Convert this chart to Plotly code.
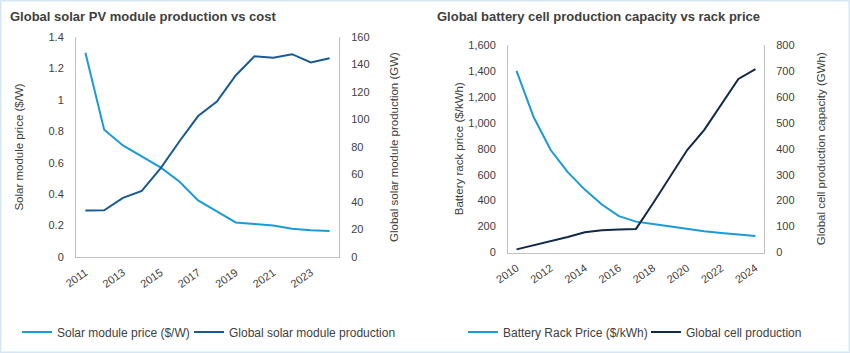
import plotly.graph_objects as go

W, H = 850, 353

# ---- data: solar ----
solar_years = [2011, 2012, 2013, 2014, 2015, 2016, 2017, 2018, 2019, 2020, 2021, 2022, 2023, 2024]
solar_price = [1.30, 0.81, 0.71, 0.64, 0.57, 0.48, 0.36, 0.29, 0.22, 0.21, 0.20, 0.18, 0.17, 0.165]
solar_production = [33.8, 34.0, 43.0, 48.0, 64.5, 84.0, 102.5, 113.0, 132.0, 146.0, 145.0, 147.5, 141.5, 144.5]
solar_xticks = [2011, 2013, 2015, 2017, 2019, 2021, 2023]

# ---- data: battery ----
battery_years = [2010, 2011, 2012, 2013, 2014, 2015, 2016, 2017, 2018, 2019, 2020, 2021, 2022, 2023, 2024]
battery_price = [1400, 1045, 790, 620, 485, 370, 280, 238, 220, 200, 180, 163, 150, 139, 127]
cell_production = [12, 28, 42, 60, 78, 86, 89, 91, 190, 292, 395, 473, 569, 669, 707]
battery_xticks = [2010, 2012, 2014, 2016, 2018, 2020, 2022, 2024]

LIGHT = "#1b9bd6"
DARK1 = "#1a5a92"
DARK2 = "#13294b"
TXT = "#404040"
AX = "#bfbfbf"
FONT = "Liberation Sans, Arial, sans-serif"

def px_x(p):
    return p / W

def px_y(p):
    return 1 - p / H

fig = go.Figure()
fig.add_trace(go.Scatter(x=solar_years, y=solar_price, mode="lines", name="Solar module price ($/W)",
                         line=dict(color=LIGHT, width=2), xaxis="x", yaxis="y", legend="legend",
                         showlegend=True))
fig.add_trace(go.Scatter(x=solar_years, y=solar_production, mode="lines", name="Global solar module production",
                         line=dict(color=DARK1, width=2), xaxis="x", yaxis="y2", legend="legend2",
                         showlegend=True))
fig.add_trace(go.Scatter(x=battery_years, y=battery_price, mode="lines", name="Battery Rack Price ($/kWh)",
                         line=dict(color=LIGHT, width=2), xaxis="x2", yaxis="y3", legend="legend3",
                         showlegend=True))
fig.add_trace(go.Scatter(x=battery_years, y=cell_production, mode="lines", name="Global cell production",
                         line=dict(color=DARK2, width=2), xaxis="x2", yaxis="y4", legend="legend4",
                         showlegend=True))

tickfont = dict(family=FONT, size=11, color=TXT)
titlefont = dict(family=FONT, size=11.5, color=TXT)

common_x = dict(showgrid=False, zeroline=False, showline=True, linecolor=AX, linewidth=1,
                ticks="", tickangle=-35, tickfont=tickfont, ticklabelstandoff=4)
common_y = dict(showgrid=False, zeroline=False, showline=True, linecolor=AX, linewidth=1,
                ticks="", tickfont=tickfont, ticklabelstandoff=9)

L_dom = [px_x(76), px_x(339)]
L_ydom = [px_y(257), px_y(37)]
R_dom = [px_x(508), px_x(764)]
R_ydom = [px_y(252.5), px_y(45)]

def leg(xpx):
    return dict(orientation="h", x=px_x(xpx), y=px_y(332), xanchor="left", yanchor="middle",
                font=dict(family=FONT, size=12, color=TXT), itemwidth=30,
                bgcolor="rgba(0,0,0,0)")

fig.update_layout(
    width=W, height=H,
    showlegend=True,
    margin=dict(l=0, r=0, t=0, b=0, autoexpand=False),
    paper_bgcolor="white", plot_bgcolor="white",
    font=dict(family=FONT, color=TXT),
    xaxis=dict(common_x, domain=L_dom, anchor="y", range=[2010.5, 2024.5], tickvals=solar_xticks),
    yaxis=dict(common_y, domain=L_ydom, anchor="x", range=[0, 1.4], dtick=0.2,
               title=dict(text="Solar module price ($/W)", font=titlefont, standoff=22)),
    yaxis2=dict(common_y, overlaying="y", side="right", anchor="x", range=[0, 160], dtick=20,
                title=dict(text="Global solar module production (GW)", font=titlefont, standoff=21)),
    xaxis2=dict(common_x, domain=R_dom, anchor="y3", range=[2009.5, 2024.5], tickvals=battery_xticks),
    yaxis3=dict(common_y, domain=R_ydom, anchor="x2", range=[0, 1600], dtick=200, tickformat=",",
                title=dict(text="Battery rack price ($/kWh)", font=titlefont, standoff=2)),
    yaxis4=dict(common_y, overlaying="y3", side="right", anchor="x2", range=[0, 800], dtick=100,
                title=dict(text="Global cell production capacity (GWh)", font=titlefont, standoff=23)),
    legend=leg(17),
    legend2=leg(189),
    legend3=leg(463),
    legend4=leg(646),
    annotations=[
        dict(text="<b>Global solar PV module production vs cost</b>", x=px_x(8), y=px_y(16),
             xref="paper", yref="paper", xanchor="left", yanchor="middle", showarrow=False,
             font=dict(family=FONT, size=13, color=TXT)),
        dict(text="<b>Global battery cell production capacity vs rack price</b>", x=px_x(435), y=px_y(16),
             xref="paper", yref="paper", xanchor="left", yanchor="middle", showarrow=False,
             font=dict(family=FONT, size=13, color=TXT)),
    ],
    shapes=[
        dict(type="rect", xref="paper", yref="paper", x0=0, y0=0, x1=1, y1=1,
             line=dict(color="#d6e6f5", width=3), fillcolor="rgba(0,0,0,0)", layer="above"),
    ],
)

fig.write_html("out.html")
